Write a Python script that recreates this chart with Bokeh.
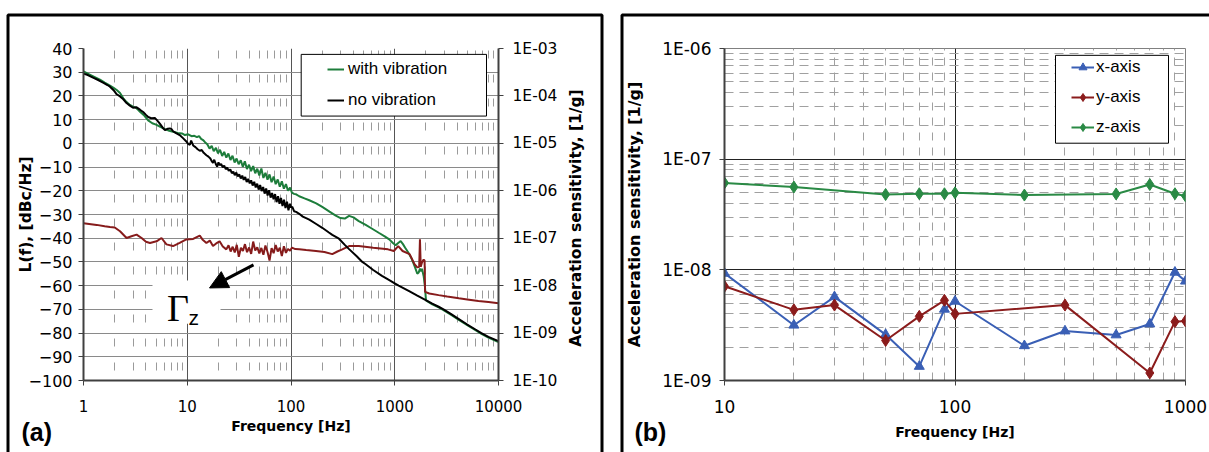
import math
from bokeh.plotting import figure
from bokeh.models import (Range1d, LogScale, LogAxis, FixedTicker, CustomJSTickFormatter,
                          Legend, LegendItem, BoxAnnotation, Label, Arrow, NormalHead)
from bokeh.layouts import row, column
from bokeh.embed import file_html
from bokeh.resources import INLINE

# ---------------- data: panel (a) ----------------
freq_nov = [1, 1.1, 1.25, 1.4, 1.56, 1.7, 1.8, 1.95, 2.09, 2.25, 2.42, 2.6, 2.8, 3.0, 3.25, 3.5, 3.76, 4.0,
            4.2, 4.5, 4.87, 5.1, 5.44, 5.8, 6.1, 6.5, 6.8, 7.05, 7.3, 7.8, 8.45, 9.1, 9.8, 10.2, 10.6, 10.9,
            11.4, 12.0, 12.6, 13.2, 13.8, 14.4, 15.3, 16.0, 16.7, 17.2, 17.7, 18.2, 18.8, 19.4, 20.0, 20.5,
            21.2, 22.0, 22.7, 23.5, 24.3, 25.1, 26.0, 26.9, 27.8, 28.7, 29.7, 30.7, 31.7, 32.8, 33.9, 35.0,
            36.2, 37.4, 38.7, 40.0, 41.3, 42.7, 44.2, 45.7, 47.2, 48.8, 50.4, 52.1, 53.9, 55.7, 57.6, 59.5,
            61.5, 63.6, 65.7, 67.9, 70.2, 72.6, 75.0, 77.5, 80.1, 82.8, 85.6, 88.5, 91.5, 94.5, 97.7, 100,
            103, 107, 112, 120, 130, 150, 175, 200, 230, 250, 290, 330, 363, 430, 487, 525, 620, 753, 870,
            980, 1090, 1390, 1650, 1970, 2300, 2650, 2950, 3500, 4150, 5000, 6000, 6840, 8000, 10000]
L_nov = [29.4, 28.8, 27.6, 26.6, 25.5, 24.6, 23.9, 22.4, 20.7, 19.8, 18.6, 17.0, 15.9, 15.0, 15.2, 14.2,
         13.2, 12.0, 11.1, 10.6, 10.7, 9.8, 8.3, 6.6, 5.6, 6.2, 6.3, 6.0, 5.1, 4.3, 3.5, 2.2, 0.8, -0.2,
         -0.6, 1.2, -0.9, -1.6, -2.5, -3.1, -2.8, -4.0, -5.0, -5.6, -6.4, -7.5, -8.2, -6.9, -8.6, -9.8,
         -8.0, -9.2, -8.7, -10.1, -9.4, -10.9, -10.2, -11.6, -11.0, -12.6, -11.9, -13.4, -12.3, -13.9,
         -13.1, -14.8, -13.6, -15.4, -14.2, -16.3, -15.0, -16.9, -15.6, -17.8, -16.2, -18.6, -17.0, -19.5,
         -17.6, -20.1, -18.4, -21.2, -19.0, -22.0, -19.8, -22.9, -20.9, -23.6, -21.4, -24.8, -22.3, -25.5,
         -23.0, -26.4, -23.8, -27.3, -24.6, -28.2, -25.5, -27.0, -26.8, -28.6, -28.9, -29.7, -30.9, -32.2,
         -34.0, -35.6, -37.5, -38.6, -40.2, -42.8, -44.6, -47.6, -50.0, -51.0, -53.4, -55.9, -57.5, -58.8,
         -60.0, -62.4, -64.2, -66.0, -67.6, -68.9, -70.0, -72.0, -74.1, -76.4, -78.5, -80.0, -81.6, -83.4]

freq_vib = [1, 1.2, 1.44, 1.6, 1.8, 1.95, 2.09, 2.25, 2.42, 2.6, 2.8, 3.0, 3.2, 3.42, 3.8, 4.2, 4.6, 5.0,
            5.5, 6.1, 6.7, 7.3, 8.1, 8.9, 9.5, 10.2, 11.0, 11.7, 12.4, 13.0, 13.6, 14.2, 14.9, 15.6, 16.4,
            17.2, 18.0, 18.9, 19.8, 20.7, 21.7, 22.7, 23.8, 24.9, 26.1, 27.3, 28.6, 29.9, 31.3, 32.8, 34.3,
            35.9, 37.6, 39.4, 41.2, 43.2, 45.2, 47.3, 49.5, 51.8, 54.2, 56.7, 59.4, 62.1, 65.0, 68.0, 71.2,
            74.5, 78.0, 81.6, 85.4, 89.4, 93.5, 97.9, 102, 107, 112, 120, 135, 150, 175, 200, 235, 270, 300,
            330, 363, 400, 450, 525, 600, 707, 800, 885, 960, 1020, 1080, 1140, 1200, 1260, 1350, 1460, 1560,
            1650, 1700, 1750, 1800, 1830, 1900, 1950, 2000, 2300, 2650, 2950, 3500, 4150, 5000, 6000, 6840,
            8000, 10000]
L_vib = [30.3, 28.6, 26.9, 25.6, 24.3, 23.4, 22.5, 21.2, 19.0, 17.4, 16.2, 15.5, 15.0, 13.8, 12.0, 9.7,
         8.5, 7.9, 7.0, 6.0, 5.3, 4.9, 4.4, 4.2, 3.5, 3.8, 3.0, 3.2, 2.6, 3.1, 1.9, 1.4, 0.4, -0.4, -2.2,
         -1.1, -3.3, -1.9, -4.2, -2.7, -5.3, -3.6, -6.0, -4.3, -7.0, -5.2, -8.1, -6.4, -8.8, -7.1, -9.9,
         -7.6, -10.8, -9.0, -11.7, -9.6, -12.6, -10.7, -13.5, -10.6, -14.6, -12.4, -15.3, -13.1, -16.4,
         -14.0, -17.2, -15.2, -18.3, -16.0, -19.1, -17.2, -20.0, -18.6, -20.8, -21.3, -21.5, -22.3, -23.2,
         -24.0, -25.3, -26.8, -28.8, -30.5, -31.5, -31.7, -30.6, -31.2, -32.8, -34.4, -35.9, -37.8, -39.2,
         -40.5, -42.0, -43.0, -42.0, -41.2, -42.5, -44.0, -46.0, -48.8, -52.0, -55.0, -54.5, -52.8, -54.0,
         -52.9, -56.0, -60.0, -66.2, -67.9, -69.2, -70.3, -72.3, -74.4, -76.7, -78.8, -80.3, -81.9, -83.8]

freq_gz = [1, 1.34, 1.6, 1.8, 2.0, 2.25, 2.6, 2.9, 3.25, 3.63, 4.0, 4.37, 5.06, 5.65, 6.3, 7.3, 8.45, 9.8,
           11.4, 13.2, 14.0, 15.3, 16.5, 17.7, 19.0, 20.5, 22.0, 23.8, 25.0, 26.2, 27.4, 28.7, 30.0, 31.4,
           32.9, 34.4, 36.0, 37.7, 39.5, 41.3, 43.2, 45.2, 47.3, 49.5, 51.8, 54.2, 56.7, 59.4, 62.1, 65.0,
           68.0, 71.2, 74.5, 78.0, 81.6, 85.4, 89.4, 93.5, 97.9, 102, 110, 120, 140, 174, 210, 250, 280,
           312, 363, 450, 620, 860, 980, 1080, 1190, 1390, 1550, 1650, 1720, 1750, 1780, 1830, 1900, 1940,
           1960, 2150, 2650, 3200, 4150, 5000, 6400, 8000, 10000]
gamma_z = [2.07e-7, 1.91e-7, 1.78e-7, 1.72e-7, 1.68e-7, 1.40e-7, 1.01e-7, 1.10e-7, 1.19e-7, 1.01e-7,
           8.41e-8, 7.94e-8, 8.61e-8, 1.01e-7, 7.41e-8, 6.84e-8, 7.94e-8, 9.44e-8, 9.66e-8, 1.14e-7,
           9.44e-8, 7.94e-8, 8.91e-8, 6.84e-8, 7.76e-8, 8.61e-8, 6.68e-8, 5.82e-8, 7.08e-8, 5.25e-8,
           6.61e-8, 5.01e-8, 7.24e-8, 4.07e-8, 6.31e-8, 5.37e-8, 7.50e-8, 5.07e-8, 6.38e-8, 4.68e-8,
           8.51e-8, 5.50e-8, 6.46e-8, 4.79e-8, 6.24e-8, 4.47e-8, 7.00e-8, 5.13e-8, 3.39e-8, 6.17e-8,
           4.84e-8, 7.16e-8, 5.25e-8, 6.31e-8, 4.22e-8, 6.76e-8, 4.90e-8, 5.96e-8, 5.43e-8, 6.31e-8,
           5.89e-8, 5.82e-8, 5.62e-8, 5.37e-8, 5.13e-8, 4.62e-8, 5.25e-8, 5.82e-8, 6.84e-8, 6.84e-8,
           6.31e-8, 5.82e-8, 5.37e-8, 6.84e-8, 5.37e-8, 4.62e-8, 2.85e-8, 2.43e-8, 2.51e-8, 9.44e-8,
           2.51e-8, 3.09e-8, 3.55e-8, 3.35e-8, 7.41e-9, 6.84e-9, 6.31e-9, 5.89e-9, 5.43e-9, 5.13e-9,
           4.73e-9, 4.52e-9, 4.27e-9]

db_ticks = [-100, -90, -80, -70, -60, -50, -40, -30, -20, -10, 0, 10, 20, 30, 40]
gamma_ticks = [1e-10, 1e-9, 1e-8, 1e-7, 1e-6, 1e-5, 1e-4, 1e-3]
freq_ticks_a = [1, 10, 100, 1000, 10000]

# ---------------- data: panel (b) ----------------
freq_x = [10, 20, 30, 50, 70, 90, 100, 200, 300, 500, 700, 900, 1000]
sens_x = [9.3e-9, 3.16e-9, 5.7e-9, 2.6e-9, 1.34e-9, 4.4e-9, 5.2e-9, 2.06e-9, 2.8e-9, 2.58e-9, 3.24e-9,
          9.5e-9, 7.9e-9]
freq_y = [10, 20, 30, 50, 70, 90, 100, 300, 700, 900, 1000]
sens_y = [7.1e-9, 4.35e-9, 4.8e-9, 2.3e-9, 3.8e-9, 5.3e-9, 4.0e-9, 4.8e-9, 1.17e-9, 3.4e-9, 3.45e-9]
freq_z = [10, 20, 50, 70, 90, 100, 200, 500, 700, 900, 1000]
sens_z = [6.1e-8, 5.6e-8, 4.8e-8, 4.87e-8, 4.87e-8, 4.97e-8, 4.74e-8, 4.85e-8, 5.9e-8, 4.87e-8, 4.65e-8]

freq_ticks_b = [10, 100, 1000]
sens_ticks_b = [1e-9, 1e-8, 1e-7, 1e-6]

# ---------------- styles ----------------
FONT = "DejaVu Sans"
SANS = "Liberation Sans"
GREEN = "#1d7d3b"
DRED = "#861b1b"
BLUE = "#3a5fb5"
RED_B = "#8b1c1c"
GREEN_B = "#2a8a45"
AXC = "#404040"
GTITLE = "Acceleration sensitivity, [1/g]"

E_FMT = CustomJSTickFormatter(code="""
const e = Math.round(Math.log10(tick)); const a = Math.abs(e);
return "1E" + (e < 0 ? "-" : "+") + (a < 10 ? "0" : "") + a;""")
F_FMT = CustomJSTickFormatter(code="return Math.round(tick).toString();")


def minor_of(decades):
    return [k * d for d in decades for k in range(2, 10)]


def style_axis(ax, size, title_size, standoff, title_standoff):
    ax.major_label_text_font = FONT
    ax.major_label_text_font_size = size
    ax.major_label_text_color = "black"
    ax.major_label_standoff = standoff
    ax.axis_label_text_font = FONT
    ax.axis_label_text_font_style = "bold"
    ax.axis_label_text_font_size = title_size
    ax.axis_label_text_color = "black"
    ax.axis_label_standoff = title_standoff
    ax.major_tick_out = 5
    ax.major_tick_in = 0
    ax.major_tick_line_color = AXC
    ax.minor_tick_line_color = None
    ax.axis_line_color = AXC
    ax.axis_line_width = 2


# ---------------- panel (a) ----------------
p1 = figure(width=612, height=452, x_axis_type="log", x_range=Range1d(1, 10000),
            y_range=Range1d(-100, 40), output_backend="svg", toolbar_location=None,
            min_border_left=83, min_border_right=114, min_border_top=48, min_border_bottom=65,
            background_fill_color="white", border_fill_color="white")
p1.outline_line_color = None
p1.extra_y_ranges = {"gamma": Range1d(1e-10, 1e-3)}
p1.extra_y_scales = {"gamma": LogScale()}


def a_pt(px, py):
    # canvas pixel of panel (a) -> data coordinates
    return 10 ** (4 * (px - 83) / 415), 40 - 140 * (py - 48) / 339


fx_tick = FixedTicker(ticks=freq_ticks_a, minor_ticks=minor_of([1, 10, 100, 1000]))
db_tick = FixedTicker(ticks=db_ticks)

xa = p1.below[0]
xa.ticker = fx_tick
xa.formatter = F_FMT
xa.axis_label = "Frequency [Hz]"
style_axis(xa, "15px", "14px", 14, 3)

ya = p1.left[0]
ya.ticker = db_tick
ya.axis_label = "L(f), [dBc/Hz]"
style_axis(ya, "16px", "15.5px", 6, -9)

ga = LogAxis(y_range_name="gamma", ticker=FixedTicker(ticks=gamma_ticks), formatter=E_FMT)
style_axis(ga, "15.5px", "15.5px", 9, 8)
p1.add_layout(ga, "right")

p1.xgrid.ticker = fx_tick
p1.xgrid.grid_line_color = "#555555"
p1.xgrid.minor_grid_line_color = "#9a9a9a"
p1.xgrid.minor_grid_line_dash = "8 16"
p1.xgrid.minor_grid_line_dash_offset = 14
p1.ygrid.ticker = db_tick
p1.ygrid.grid_line_color = "#8a8a8a"

r_vib = p1.line(freq_vib, L_vib, line_color=GREEN, line_width=2)
r_gz = p1.line(freq_gz, gamma_z, y_range_name="gamma", line_color=DRED, line_width=2)
r_nov = p1.line(freq_nov, L_nov, line_color="black", line_width=2)

# legend frame + legend
l0, t0 = a_pt(300.7, 54)
l1, t1 = a_pt(486, 117)
p1.add_layout(BoxAnnotation(left=l0, right=l1, top=t0, bottom=t1, fill_color="white", fill_alpha=1,
                            line_color="black", line_alpha=1, line_width=1))
leg1 = Legend(items=[LegendItem(label="with vibration", renderers=[r_vib]),
                     LegendItem(label="no vibration", renderers=[r_nov])],
              location=(244, 270), padding=6, spacing=11, glyph_width=17, glyph_height=20,
              label_height=20, label_standoff=4, label_text_font=SANS, label_text_font_size="17px",
              label_text_color="black", border_line_color=None, background_fill_alpha=0, margin=0)
p1.add_layout(leg1, "center")

# Gamma_z label with white box and arrow
b0x, b0y = a_pt(152, 285)
b1x, b1y = a_pt(220, 329)
p1.add_layout(BoxAnnotation(left=b0x, right=b1x, top=b0y, bottom=b1y, fill_color="white",
                            fill_alpha=1, line_color=None))
gx, gy = a_pt(177.5, 313)
p1.add_layout(Label(x=gx, y=gy, text="Γ", text_font="Liberation Serif", text_font_size="38px",
                    text_align="center", text_baseline="alphabetic", text_color="black"))
zx, zy = a_pt(188, 323)
p1.add_layout(Label(x=zx, y=zy, text="z", text_font=SANS, text_font_size="21px",
                    text_align="left", text_baseline="alphabetic", text_color="black"))
asx, asy = a_pt(253, 269)
aex, aey = a_pt(209, 292.5)
p1.add_layout(Arrow(x_start=asx, y_start=asy, x_end=aex, y_end=aey, line_width=3, line_color="black",
                    end=NormalHead(size=18, fill_color="black", line_color="black")))

# ---------------- panel (b) ----------------
p2 = figure(width=597, height=452, x_axis_type="log", y_axis_type="log", x_range=Range1d(10, 1000),
            y_range=Range1d(1e-9, 1e-6), output_backend="svg", toolbar_location=None,
            min_border_left=112, min_border_right=24, min_border_top=40, min_border_bottom=72,
            background_fill_color="white", border_fill_color="white")
p2.outline_line_color = "#808080"
p2.outline_line_width = 1


def b_pt(px, py):
    # global canvas pixel of panel (b) -> data coordinates
    return 10 ** (1 + 2 * (px - 724) / 461), 10 ** (-6 - 3 * (py - 40) / 340)


fb_tick = FixedTicker(ticks=freq_ticks_b, minor_ticks=minor_of([10, 100]))
sb_tick = FixedTicker(ticks=sens_ticks_b, minor_ticks=minor_of([1e-9, 1e-8, 1e-7]))

xb = p2.below[0]
xb.ticker = fb_tick
xb.formatter = F_FMT
xb.axis_label = "Frequency [Hz]"
style_axis(xb, "17px", "14px", 14, 8)

yb = p2.left[0]
yb.ticker = sb_tick
yb.formatter = E_FMT
yb.axis_label = GTITLE
style_axis(yb, "17px", "16px", 8, 15)

p2.xgrid.ticker = fb_tick
p2.ygrid.ticker = sb_tick
for g in (p2.xgrid, p2.ygrid):
    g.grid_line_color = "#222222"
    g.grid_line_width = 1
    g.minor_grid_line_color = "#a0a0a0"
p2.xgrid.minor_grid_line_dash = "8 7"
p2.ygrid.minor_grid_line_dash = "9 6"

lx = p2.line(freq_x, sens_x, line_color=BLUE, line_width=2)
sx = p2.scatter(freq_x, sens_x, marker="triangle", size=10, fill_color=BLUE, line_color=BLUE)
ly = p2.line(freq_y, sens_y, line_color=RED_B, line_width=2)
sy = p2.scatter(freq_y, sens_y, marker="diamond", size=12, fill_color=RED_B, line_color=RED_B)
lz = p2.line(freq_z, sens_z, line_color=GREEN_B, line_width=2)
sz = p2.scatter(freq_z, sens_z, marker="diamond", size=12, fill_color=GREEN_B, line_color=GREEN_B)

k0, m0 = b_pt(1055, 47)
k1, m1 = b_pt(1168, 137)
p2.add_layout(BoxAnnotation(left=k0, right=k1, top=m0, bottom=m1, fill_color="white", fill_alpha=1,
                            line_color="black", line_alpha=1, line_width=1))
leg2 = Legend(items=[LegendItem(label="x-axis", renderers=[lx, sx]),
                     LegendItem(label="y-axis", renderers=[ly, sy]),
                     LegendItem(label="z-axis", renderers=[lz, sz])],
              location=(347, 243), padding=5, spacing=10, glyph_width=23, glyph_height=20,
              label_height=20, label_standoff=2, label_text_font=SANS, label_text_font_size="17px",
              label_text_color="black", border_line_color=None, background_fill_alpha=0, margin=0)
p2.add_layout(leg2, "center")

# ---------------- transparent overlay: panel frames, panel letters, right-axis title ----------------
ov = figure(width=1209, height=452, x_range=Range1d(0, 1209), y_range=Range1d(452, 0),
            x_axis_location=None, y_axis_location=None, output_backend="svg", toolbar_location=None,
            min_border=0, background_fill_color=None, border_fill_color=None)
ov.outline_line_color = None
ov.grid.visible = False
ov.add_layout(BoxAnnotation(left=7.5, right=601.5, top=14.5, bottom=500, fill_color=None,
                            line_color="black", line_alpha=1, line_width=3))
ov.add_layout(BoxAnnotation(left=621.5, right=1260, top=14.5, bottom=500, fill_color=None,
                            line_color="black", line_alpha=1, line_width=3))
ov.add_layout(Label(x=21, y=431.5, text="(a)", text_font=SANS, text_font_style="bold",
                    text_font_size="25px", text_align="left", text_baseline="middle",
                    text_color="black"))
ov.add_layout(Label(x=634, y=431.5, text="(b)", text_font=SANS, text_font_style="bold",
                    text_font_size="25px", text_align="left", text_baseline="middle",
                    text_color="black"))
ov.add_layout(Label(x=575, y=217.5, text=GTITLE, text_font=FONT, text_font_style="bold",
                    text_font_size="15.5px", text_align="center", text_baseline="middle",
                    angle=math.pi / 2, text_color="black"))
ov.margin = (-452, 0, 0, 0)

layout = column(row(p1, p2, spacing=0), ov, spacing=0)
open("out.html", "w").write(file_html(layout, INLINE))
